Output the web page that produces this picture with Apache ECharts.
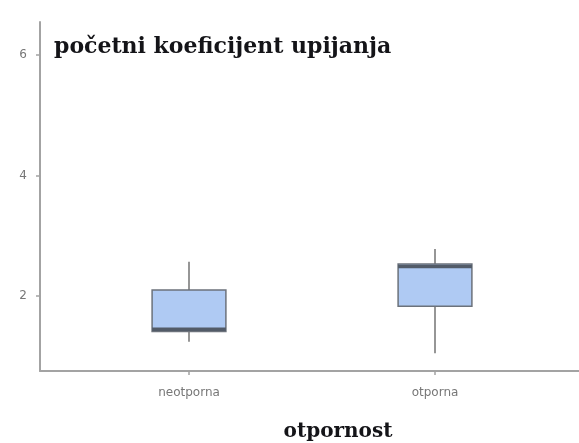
<!DOCTYPE html>
<html>
<head>
<meta charset="utf-8">
<script src="https://cdn.jsdelivr.net/npm/echarts@6/dist/echarts.min.js"></script>
<style>
  html, body { margin: 0; padding: 0; background: #ffffff; }
  #chart { width: 579px; height: 443px; }
</style>
</head>
<body>
<div id="chart"></div>
<script>
// Box-and-whisker summary of the initial absorption coefficient per resistance group
const categories = ['neotporna', 'otporna'];
const whiskerLow = [1.24, 1.05];
const quartile1 = [1.41, 1.83];
const medians = [1.45, 2.49];
const quartile3 = [2.10, 2.53];
const whiskerHigh = [2.57, 2.78];
const yTicks = [2, 4, 6];
const yRange = [0.755, 6.55];

const chartTitle = 'početni koeficijent upijanja';
const xTitle = 'otpornost';

const rows = categories.map((c, i) => [i, whiskerLow[i], quartile1[i], medians[i], quartile3[i], whiskerHigh[i]]);

const axisGray = '#a3a3a3';
const labelGray = '#777777';

const chart = echarts.init(document.getElementById('chart'), null, { renderer: 'canvas' });

chart.setOption({
  backgroundColor: '#ffffff',
  animation: false,
  title: [
    {
      text: chartTitle,
      left: 49,
      top: 31,
      textStyle: { fontFamily: 'DejaVu Serif', fontWeight: 'bold', fontSize: 22, color: '#141418' }
    },
    {
      text: xTitle,
      left: 333,
      top: 417,
      textAlign: 'center',
      textStyle: { fontFamily: 'DejaVu Serif', fontWeight: 'bold', fontSize: 20, color: '#141418' }
    }
  ],
  grid: [
    // panel frame with the y axis and the full-width x axis line
    { left: 40, right: 0, top: 22, bottom: 72 },
    // plotting area for the two groups (discrete scale with padding on both sides)
    { left: 66, width: 492, top: 22, bottom: 72 }
  ],
  xAxis: [
    {
      gridIndex: 0, type: 'value', min: 0, max: 1,
      axisLine: { show: true, lineStyle: { color: axisGray, width: 2 } },
      axisTick: { show: false }, axisLabel: { show: false }, splitLine: { show: false }
    },
    {
      gridIndex: 1, type: 'category', data: categories,
      axisLine: { show: false },
      axisTick: { show: true, alignWithLabel: true, length: 4, lineStyle: { color: axisGray, width: 1.5 } },
      axisLabel: { color: labelGray, fontFamily: 'DejaVu Sans', fontSize: 12, margin: 16 },
      splitLine: { show: false }
    }
  ],
  yAxis: [
    {
      gridIndex: 0, type: 'value', min: yRange[0], max: yRange[1],
      axisLine: { show: true, lineStyle: { color: axisGray, width: 2 } },
      axisTick: { show: true, length: 4, customValues: yTicks, lineStyle: { color: axisGray, width: 1.5 } },
      axisLabel: { color: labelGray, fontFamily: 'DejaVu Sans', fontSize: 12, margin: 13, customValues: yTicks },
      splitLine: { show: false }
    },
    {
      gridIndex: 1, type: 'value', min: yRange[0], max: yRange[1], show: false,
      splitLine: { show: false }
    }
  ],
  series: [
    {
      type: 'custom',
      xAxisIndex: 1,
      yAxisIndex: 1,
      data: rows,
      encode: { x: 0, y: [1, 2, 3, 4, 5] },
      renderItem: function (params, api) {
        const c = api.value(0);
        const pLow = api.coord([c, api.value(1)]);
        const pQ1 = api.coord([c, api.value(2)]);
        const pMed = api.coord([c, api.value(3)]);
        const pQ3 = api.coord([c, api.value(4)]);
        const pHigh = api.coord([c, api.value(5)]);
        const halfW = api.size([1, 0])[0] * 0.15;
        return {
          type: 'group',
          children: [
            {
              type: 'line',
              shape: { x1: pLow[0], y1: pLow[1], x2: pHigh[0], y2: pHigh[1] },
              style: { stroke: '#737373', lineWidth: 1.5 }
            },
            {
              type: 'rect',
              shape: { x: pQ3[0] - halfW, y: pQ3[1], width: halfW * 2, height: pQ1[1] - pQ3[1] },
              style: { fill: '#afcaf3', stroke: '#6c727b', lineWidth: 1.5 }
            },
            {
              type: 'line',
              shape: { x1: pMed[0] - halfW, y1: pMed[1], x2: pMed[0] + halfW, y2: pMed[1] },
              style: { stroke: '#525b68', lineWidth: 3.5 }
            }
          ]
        };
      }
    }
  ]
});
</script>
</body>
</html>
